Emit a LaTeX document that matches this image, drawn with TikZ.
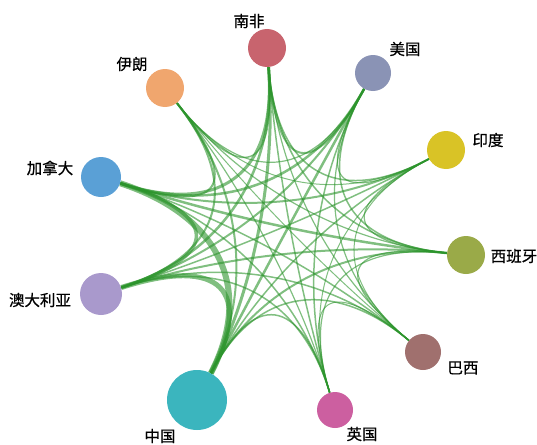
\documentclass[tikz,border=0pt]{standalone}
\usepackage{fontspec}
\newfontfamily\cjk[FakeBold=0.6]{Noto Sans CJK SC}
\usetikzlibrary{backgrounds,calc}

\definecolor{edgegreen}{RGB}{44,148,44}
\definecolor{cnanfei}{RGB}{200,100,110}
\definecolor{cmeiguo}{RGB}{138,147,181}
\definecolor{cyilang}{RGB}{240,166,110}
\definecolor{cyindu}{RGB}{217,195,38}
\definecolor{cjianada}{RGB}{90,160,214}
\definecolor{cxibanya}{RGB}{154,170,72}
\definecolor{caodaliya}{RGB}{169,153,204}
\definecolor{cbaxi}{RGB}{160,112,110}
\definecolor{cyingguo}{RGB}{204,95,160}
\definecolor{czhongguo}{RGB}{59,181,190}

\tikzstyle{country} = [circle, inner sep=0pt, minimum size=38pt]
\tikzstyle{lbl} = [font=\cjk\fontsize{15.5}{17}\selectfont, inner sep=0pt]
\tikzstyle{link} = [draw=edgegreen, opacity=0.6]

\begin{document}
\begin{tikzpicture}[x=1pt,y=-1pt]
\useasboundingbox (0,0) rectangle (537,444);

\coordinate (ctr) at (282,236);

\node[country, fill=cnanfei] (nanfei) at (267,48) {};
\node[country, fill=cmeiguo, minimum size=36pt] (meiguo) at (373,73) {};
\node[country, fill=cyilang] (yilang) at (165,88) {};
\node[country, fill=cyindu] (yindu) at (446,150) {};
\node[country, fill=cjianada, minimum size=40pt] (jianada) at (101,177) {};
\node[country, fill=cxibanya] (xibanya) at (466,255) {};
\node[country, fill=caodaliya, minimum size=42pt] (aodaliya) at (101,294) {};
\node[country, fill=cbaxi, minimum size=36pt] (baxi) at (423,352) {};
\node[country, fill=cyingguo, minimum size=36pt] (yingguo) at (335,410) {};
\node[country, fill=czhongguo, minimum size=60pt] (zhongguo) at (197,400) {};

\node[lbl] (l_nanfei) at (249,21) {南非};
\node[lbl] (l_meiguo) at (405,49) {美国};
\node[lbl] (l_yilang) at (132,64) {伊朗};
\node[lbl] (l_yindu) at (488,140) {印度};
\node[lbl] (l_jianada) at (50,168) {加拿大};
\node[lbl] (l_xibanya) at (514,256) {西班牙};
\node[lbl] (l_aodaliya) at (40,300) {澳大利亚};
\node[lbl] (l_baxi) at (463,368) {巴西};
\node[lbl] (l_yingguo) at (362,434) {英国};
\node[lbl] (l_zhongguo) at (160,436) {中国};

% links, all bent towards the centre
\begin{scope}[on background layer]
\foreach \a/\b/\w in {
  zhongguo/jianada/6, zhongguo/aodaliya/5, zhongguo/nanfei/3,
  zhongguo/meiguo/2.5, zhongguo/yilang/2, zhongguo/yindu/1.5,
  zhongguo/xibanya/2, zhongguo/baxi/1.5, zhongguo/yingguo/1.5,
  jianada/aodaliya/3.5, jianada/nanfei/3, jianada/meiguo/2.5,
  jianada/xibanya/2.5, jianada/yindu/2, jianada/yilang/2,
  jianada/baxi/1.5, jianada/yingguo/1.5,
  aodaliya/nanfei/2.5, aodaliya/meiguo/2, aodaliya/yilang/2,
  aodaliya/yindu/1.5, aodaliya/xibanya/2, aodaliya/baxi/1.5,
  aodaliya/yingguo/1.5,
  nanfei/meiguo/2, nanfei/yilang/1.5, nanfei/yindu/1.5,
  nanfei/xibanya/1.5, nanfei/baxi/1.2, nanfei/yingguo/1.5,
  meiguo/yilang/1.2, meiguo/yindu/1.2, meiguo/xibanya/1.5,
  meiguo/baxi/1.2, meiguo/yingguo/1.5,
  yilang/yindu/1, yilang/xibanya/1.2, yilang/baxi/1, yilang/yingguo/1.2,
  yindu/xibanya/1.2, yindu/baxi/1, yindu/yingguo/1,
  xibanya/baxi/1.2, xibanya/yingguo/1.2, baxi/yingguo/1}
  \draw[link, line width=\w pt]
    (\a) .. controls ($(\a)!2/3!(ctr)$) and ($(\b)!2/3!(ctr)$) .. (\b);
\end{scope}

\end{tikzpicture}
\end{document}
